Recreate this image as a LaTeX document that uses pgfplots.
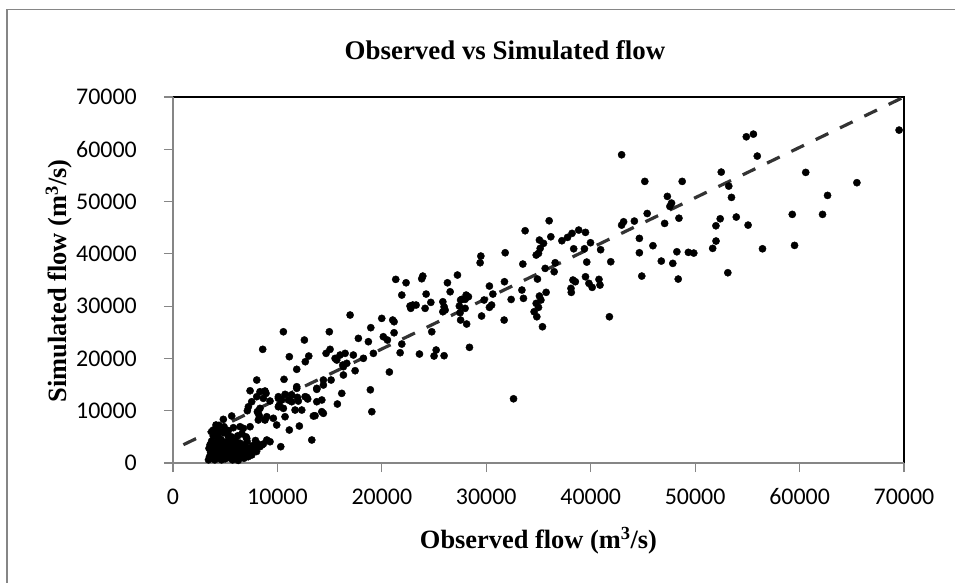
\documentclass[border=0pt]{standalone}
\usepackage{fontspec}
\setmainfont{Liberation Serif}
\newfontfamily\carlito{Carlito}
\usepackage{pgfplots}
\pgfplotsset{compat=1.18}
\definecolor{axgray}{HTML}{868686}
\begin{document}
\begin{tikzpicture}
\useasboundingbox (-173bp,-120bp) rectangle (782bp,463bp);
\draw[axgray, line width=1.2bp] (-166bp,-130bp) -- (-166bp,453.5bp) -- (800bp,453.5bp);
\begin{axis}[at={(0,0)}, anchor=south west, scale only axis, width=731bp, height=366bp,
 xmin=0,xmax=70000,ymin=0,ymax=70000,
 xtick={0,10000,...,70000}, ytick={0,10000,...,70000},
 scaled ticks=false,
 /pgf/number format/1000 sep={},
 /pgf/number format/assume math mode=true,
 tick label style={font=\carlito\fontsize{24}{24}\selectfont},
 tick align=outside, tick pos=left, major tick length=9bp,
 tick style={axgray, line width=1.2bp},
 axis line style={draw=none},
 xticklabel style={anchor=base, yshift=-32bp},
 yticklabel style={anchor=east, inner sep=0pt, xshift=-27bp},
 clip=false,
]
\draw[black, line width=1.3bp] (rel axis cs:0,1) -- (rel axis cs:1,1) -- (rel axis cs:1,0);
\draw[axgray, line width=1.4bp] (rel axis cs:0,1) -- (rel axis cs:0,0) -- (rel axis cs:1,0);
\addplot[only marks, mark=*, mark size=3.6bp, black] table {
x y
69530 63670
54900 62390
55580 62900
42960 58950
55950 58700
60590 55580
52500 55640
45180 53860
48760 53860
65490 53610
53220 52960
53480 50800
47340 50990
47740 49710
47580 49070
62680 51180
45410 47720
48450 46820
52400 46710
51990 45370
53940 47040
55070 45500
59300 47550
62200 47550
43150 46140
42960 45500
44180 46270
47080 45820
44660 42960
44660 40210
44890 35750
45960 41560
46760 38620
47860 38180
48250 40400
48380 35180
49350 40290
49870 40150
51680 41050
52000 42450
53130 36390
56450 40970
59520 41620
41920 38490
41790 27970
37240 42510
37780 43150
38210 43920
38850 44550
39500 44110
38370 40970
39400 40970
39980 42130
40950 40790
39620 38430
39500 35620
39830 34360
40140 33590
40790 35120
40890 34030
38300 34990
38530 34670
38110 33400
38140 32630
36020 46330
33720 44420
36180 43270
35090 42640
35480 42010
35160 41050
35000 40100
34780 39770
31810 40210
29480 39580
29410 38300
33500 38050
36600 38300
35640 37220
36500 36580
34900 35180
31740 34670
35730 32640
35090 31930
35230 31170
34780 30530
35000 29770
34580 28930
34840 27970
35380 26060
33410 33080
33560 31490
32380 31280
31710 27340
30300 33840
30630 32310
29790 31170
30510 30210
30300 29770
29550 28110
27240 35950
26280 34470
26540 32750
28070 32120
28290 31800
27660 31300
27970 31300
27540 31170
25840 30840
25960 29890
25840 28930
26060 29250
27420 30020
27970 29580
27490 28740
27540 27340
28120 26580
24690 30720
24140 29580
24240 32310
23920 35750
23820 35240
22320 34470
21330 35120
21910 32120
22700 30020
22960 30210
22770 29580
23280 30210
24780 25100
23600 20840
25200 21610
25000 20460
25960 20520
28390 22120
21910 22750
21750 21090
20720 17400
19990 27660
21040 27340
21170 27020
21170 24910
18940 25880
20140 24150
20530 23520
17750 23840
18710 23200
16960 28300
16000 20650
16480 20970
17270 20650
15680 19690
16640 19060
16320 18420
17440 17650
16320 16830
18230 20020
19190 20970
18900 14000
32610 12280
19040 9810
10570 25100
14970 25100
12580 23520
8590 21740
11140 20330
13000 20460
12670 19370
14660 20970
15040 21740
15520 20010
16260 18740
11850 17920
14400 15870
13770 14090
15140 15870
16160 13320
15740 11280
10630 16000
11850 14590
8020 15870
7380 13820
8330 13630
8910 13320
8020 12680
8650 12370
7220 10760
7120 10000
8330 10450
10090 12370
10180 11090
10570 10450
10410 12050
11050 12050
11370 11720
11370 13000
12810 12560
11910 12560
12330 10130
10730 8850
11140 6310
12100 7070
13440 8990
14400 9500
8080 9810
8270 8990
8980 8850
9930 7270
13290 4400
10320 3120
8980 4400
9290 4070
8330 3120
8650 3630
5620 8990
4820 8350
4120 7270
6420 6940
6730 6630
7380 6940
4890 6940
3860 6310
4500 5980
5780 6750
7060 4710
7220 2160
7700 3120
8020 3770
8500 3440
7540 1530
8170 9500
8810 8220
9610 8550
8170 8220
13600 9040
14250 9810
9290 11850
10090 10760
11690 10130
12000 11850
12650 12680
12900 12240
13770 11720
14250 12050
10090 12680
10730 13130
11850 14280
13770 14280
8810 13770
14400 14910
7540 11720
3400 600
3500 1200
3600 2000
3450 2800
3550 3500
3700 4200
3650 900
3800 1600
3900 2400
3750 3100
3850 5200
3950 3800
4000 600
4100 1300
4050 2000
4200 2700
4150 3400
4250 4300
4300 5000
4100 5600
4400 900
4350 1700
4500 2300
4450 3000
4550 3700
4600 4500
4700 1100
4650 600
4800 1900
4750 2600
4900 3300
4850 4000
5000 800
5100 1500
5050 2200
5200 2900
5150 3600
5300 4400
5250 5300
5400 1000
5500 1800
5450 2500
5600 3200
5550 3900
5700 600
5800 1400
5750 2100
5900 2800
5850 3500
6000 4200
6100 1000
6200 1700
6150 2400
6300 3100
6250 500
6400 3800
6500 1300
6600 2000
6550 2700
6700 3400
6800 900
6900 1600
6850 2300
7000 3000
7100 4100
7200 1200
7300 2500
7500 1900
7600 3300
7800 2800
8000 2200
8200 3500
7900 4300
4800 5800
5300 6200
4200 6400
3700 6000
6200 5200
5600 5000
6600 5600
7000 5000
4400 7200
};
\addplot[black!80, line width=3.2bp, dash pattern=on 14bp off 13bp] coordinates {(1000,3500) (70000,70000)};
\end{axis}
\node[font=\bfseries\fontsize{27}{27}\selectfont] at (332bp,413bp) {Observed vs Simulated flow};
\node[font=\bfseries\fontsize{26.5}{27}\selectfont] at (365.5bp,-78bp) {Observed flow (m\textsuperscript{3}/s)};
\node[font=\bfseries\fontsize{26.5}{27}\selectfont, rotate=90] at (-114bp,182bp) {Simulated flow (m\textsuperscript{3}/s)};
\end{tikzpicture}
\end{document}
